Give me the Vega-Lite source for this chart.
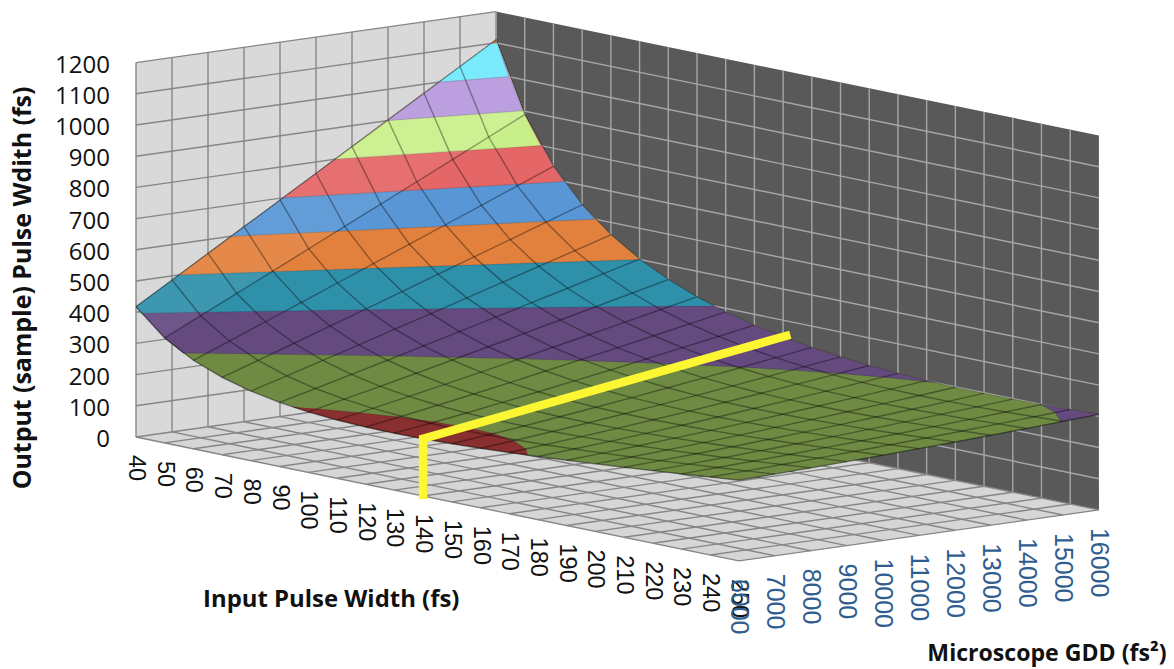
{
"$schema":"https://vega.github.io/schema/vega-lite/v6.json",
"width":1174,"height":669,"padding":0,"autosize":{"type":"fit","contains":"padding"},
"background":"white","view":{"stroke":null},
"resolve":{"scale":{"fill":"independent","stroke":"independent"}},
"datasets":{
"walls":[
{"s":"L","p":40,"g":6000,"z":0},{"s":"L","p":40,"g":6000,"z":1200},{"s":"L","p":40,"g":16000,"z":1200},{"s":"L","p":40,"g":16000,"z":0},
{"s":"R","p":40,"g":16000,"z":0},{"s":"R","p":40,"g":16000,"z":1200},{"s":"R","p":250,"g":16000,"z":1200},{"s":"R","p":250,"g":16000,"z":0},
{"s":"F","p":40,"g":6000,"z":0},{"s":"F","p":40,"g":16000,"z":0},{"s":"F","p":250,"g":16000,"z":0},{"s":"F","p":250,"g":6000,"z":0}],
"grid":[
{"w":"L","p":40,"g":6000,"z":0,"p2":40,"g2":6000,"z2":1200},{"w":"L","p":40,"g":7000,"z":0,"p2":40,"g2":7000,"z2":1200},{"w":"L","p":40,"g":8000,"z":0,"p2":40,"g2":8000,"z2":1200},{"w":"L","p":40,"g":9000,"z":0,"p2":40,"g2":9000,"z2":1200},{"w":"L","p":40,"g":10000,"z":0,"p2":40,"g2":10000,"z2":1200},{"w":"L","p":40,"g":11000,"z":0,"p2":40,"g2":11000,"z2":1200},{"w":"L","p":40,"g":12000,"z":0,"p2":40,"g2":12000,"z2":1200},{"w":"L","p":40,"g":13000,"z":0,"p2":40,"g2":13000,"z2":1200},{"w":"L","p":40,"g":14000,"z":0,"p2":40,"g2":14000,"z2":1200},{"w":"L","p":40,"g":15000,"z":0,"p2":40,"g2":15000,"z2":1200},{"w":"L","p":40,"g":16000,"z":0,"p2":40,"g2":16000,"z2":1200},
{"w":"L","p":40,"g":6000,"z":100,"p2":40,"g2":16000,"z2":100},{"w":"L","p":40,"g":6000,"z":200,"p2":40,"g2":16000,"z2":200},{"w":"L","p":40,"g":6000,"z":300,"p2":40,"g2":16000,"z2":300},{"w":"L","p":40,"g":6000,"z":400,"p2":40,"g2":16000,"z2":400},{"w":"L","p":40,"g":6000,"z":500,"p2":40,"g2":16000,"z2":500},{"w":"L","p":40,"g":6000,"z":600,"p2":40,"g2":16000,"z2":600},{"w":"L","p":40,"g":6000,"z":700,"p2":40,"g2":16000,"z2":700},{"w":"L","p":40,"g":6000,"z":800,"p2":40,"g2":16000,"z2":800},{"w":"L","p":40,"g":6000,"z":900,"p2":40,"g2":16000,"z2":900},{"w":"L","p":40,"g":6000,"z":1000,"p2":40,"g2":16000,"z2":1000},{"w":"L","p":40,"g":6000,"z":1100,"p2":40,"g2":16000,"z2":1100},{"w":"L","p":40,"g":6000,"z":1200,"p2":40,"g2":16000,"z2":1200},
{"w":"R","p":40,"g":16000,"z":0,"p2":40,"g2":16000,"z2":1200},{"w":"R","p":50,"g":16000,"z":0,"p2":50,"g2":16000,"z2":1200},{"w":"R","p":60,"g":16000,"z":0,"p2":60,"g2":16000,"z2":1200},{"w":"R","p":70,"g":16000,"z":0,"p2":70,"g2":16000,"z2":1200},{"w":"R","p":80,"g":16000,"z":0,"p2":80,"g2":16000,"z2":1200},{"w":"R","p":90,"g":16000,"z":0,"p2":90,"g2":16000,"z2":1200},{"w":"R","p":100,"g":16000,"z":0,"p2":100,"g2":16000,"z2":1200},{"w":"R","p":110,"g":16000,"z":0,"p2":110,"g2":16000,"z2":1200},{"w":"R","p":120,"g":16000,"z":0,"p2":120,"g2":16000,"z2":1200},{"w":"R","p":130,"g":16000,"z":0,"p2":130,"g2":16000,"z2":1200},{"w":"R","p":140,"g":16000,"z":0,"p2":140,"g2":16000,"z2":1200},{"w":"R","p":150,"g":16000,"z":0,"p2":150,"g2":16000,"z2":1200},{"w":"R","p":160,"g":16000,"z":0,"p2":160,"g2":16000,"z2":1200},{"w":"R","p":170,"g":16000,"z":0,"p2":170,"g2":16000,"z2":1200},{"w":"R","p":180,"g":16000,"z":0,"p2":180,"g2":16000,"z2":1200},{"w":"R","p":190,"g":16000,"z":0,"p2":190,"g2":16000,"z2":1200},{"w":"R","p":200,"g":16000,"z":0,"p2":200,"g2":16000,"z2":1200},{"w":"R","p":210,"g":16000,"z":0,"p2":210,"g2":16000,"z2":1200},{"w":"R","p":220,"g":16000,"z":0,"p2":220,"g2":16000,"z2":1200},{"w":"R","p":230,"g":16000,"z":0,"p2":230,"g2":16000,"z2":1200},{"w":"R","p":240,"g":16000,"z":0,"p2":240,"g2":16000,"z2":1200},
{"w":"R","p":40,"g":16000,"z":100,"p2":250,"g2":16000,"z2":100},{"w":"R","p":40,"g":16000,"z":200,"p2":250,"g2":16000,"z2":200},{"w":"R","p":40,"g":16000,"z":300,"p2":250,"g2":16000,"z2":300},{"w":"R","p":40,"g":16000,"z":400,"p2":250,"g2":16000,"z2":400},{"w":"R","p":40,"g":16000,"z":500,"p2":250,"g2":16000,"z2":500},{"w":"R","p":40,"g":16000,"z":600,"p2":250,"g2":16000,"z2":600},{"w":"R","p":40,"g":16000,"z":700,"p2":250,"g2":16000,"z2":700},{"w":"R","p":40,"g":16000,"z":800,"p2":250,"g2":16000,"z2":800},{"w":"R","p":40,"g":16000,"z":900,"p2":250,"g2":16000,"z2":900},{"w":"R","p":40,"g":16000,"z":1000,"p2":250,"g2":16000,"z2":1000},{"w":"R","p":40,"g":16000,"z":1100,"p2":250,"g2":16000,"z2":1100},
{"w":"F","p":40,"g":6000,"z":0,"p2":40,"g2":16000,"z2":0},{"w":"F","p":50,"g":6000,"z":0,"p2":50,"g2":16000,"z2":0},{"w":"F","p":60,"g":6000,"z":0,"p2":60,"g2":16000,"z2":0},{"w":"F","p":70,"g":6000,"z":0,"p2":70,"g2":16000,"z2":0},{"w":"F","p":80,"g":6000,"z":0,"p2":80,"g2":16000,"z2":0},{"w":"F","p":90,"g":6000,"z":0,"p2":90,"g2":16000,"z2":0},{"w":"F","p":100,"g":6000,"z":0,"p2":100,"g2":16000,"z2":0},{"w":"F","p":110,"g":6000,"z":0,"p2":110,"g2":16000,"z2":0},{"w":"F","p":120,"g":6000,"z":0,"p2":120,"g2":16000,"z2":0},{"w":"F","p":130,"g":6000,"z":0,"p2":130,"g2":16000,"z2":0},{"w":"F","p":140,"g":6000,"z":0,"p2":140,"g2":16000,"z2":0},{"w":"F","p":150,"g":6000,"z":0,"p2":150,"g2":16000,"z2":0},{"w":"F","p":160,"g":6000,"z":0,"p2":160,"g2":16000,"z2":0},{"w":"F","p":170,"g":6000,"z":0,"p2":170,"g2":16000,"z2":0},{"w":"F","p":180,"g":6000,"z":0,"p2":180,"g2":16000,"z2":0},{"w":"F","p":190,"g":6000,"z":0,"p2":190,"g2":16000,"z2":0},{"w":"F","p":200,"g":6000,"z":0,"p2":200,"g2":16000,"z2":0},{"w":"F","p":210,"g":6000,"z":0,"p2":210,"g2":16000,"z2":0},{"w":"F","p":220,"g":6000,"z":0,"p2":220,"g2":16000,"z2":0},{"w":"F","p":230,"g":6000,"z":0,"p2":230,"g2":16000,"z2":0},{"w":"F","p":240,"g":6000,"z":0,"p2":240,"g2":16000,"z2":0},{"w":"F","p":250,"g":6000,"z":0,"p2":250,"g2":16000,"z2":0},
{"w":"F","p":40,"g":6000,"z":0,"p2":250,"g2":6000,"z2":0},{"w":"F","p":40,"g":7000,"z":0,"p2":250,"g2":7000,"z2":0},{"w":"F","p":40,"g":8000,"z":0,"p2":250,"g2":8000,"z2":0},{"w":"F","p":40,"g":9000,"z":0,"p2":250,"g2":9000,"z2":0},{"w":"F","p":40,"g":10000,"z":0,"p2":250,"g2":10000,"z2":0},{"w":"F","p":40,"g":11000,"z":0,"p2":250,"g2":11000,"z2":0},{"w":"F","p":40,"g":12000,"z":0,"p2":250,"g2":12000,"z2":0},{"w":"F","p":40,"g":13000,"z":0,"p2":250,"g2":13000,"z2":0},{"w":"F","p":40,"g":14000,"z":0,"p2":250,"g2":14000,"z2":0},{"w":"F","p":40,"g":15000,"z":0,"p2":250,"g2":15000,"z2":0},{"w":"F","p":40,"g":16000,"z":0,"p2":250,"g2":16000,"z2":0}],
"polys":[
{"s":"A","b":"200","p":40,"g":6000,"z":417.8},{"s":"A","b":"200","p":50,"g":6000,"z":336.4},{"s":"A","b":"200","p":60,"g":6000,"z":283.7},{"s":"A","b":"200","p":70,"g":6000,"z":247.8},{"s":"A","b":"200","p":80,"g":6000,"z":222.9},{"s":"A","b":"200","p":90,"g":6000,"z":205.6},{"s":"A","b":"200","p":100,"g":6000,"z":194.1},{"s":"A","b":"200","p":110,"g":6000,"z":187},{"s":"A","b":"200","p":120,"g":6000,"z":183.3},{"s":"A","b":"200","p":130,"g":6000,"z":182.4},{"s":"A","b":"200","p":140,"g":6000,"z":183.6},{"s":"A","b":"200","p":150,"g":6000,"z":186.5},{"s":"A","b":"200","p":160,"g":6000,"z":190.8},{"s":"A","b":"200","p":170,"g":6000,"z":196.2},{"s":"A","b":"200","p":180,"g":6000,"z":202.3},{"s":"A","b":"200","p":190,"g":6000,"z":209.2},{"s":"A","b":"200","p":200,"g":6000,"z":216.6},{"s":"A","b":"200","p":210,"g":6000,"z":224.4},{"s":"A","b":"200","p":220,"g":6000,"z":232.6},{"s":"A","b":"200","p":230,"g":6000,"z":241.1},{"s":"A","b":"200","p":240,"g":6000,"z":249.8},{"s":"A","b":"200","p":250,"g":6000,"z":258.7},
{"s":"A","b":"200","p":250,"g":7000,"z":261.8},{"s":"A","b":"200","p":250,"g":8000,"z":265.3},{"s":"A","b":"200","p":250,"g":9000,"z":269.2},{"s":"A","b":"200","p":250,"g":10000,"z":273.4},{"s":"A","b":"200","p":250,"g":11000,"z":278.1},{"s":"A","b":"200","p":250,"g":12000,"z":283},{"s":"A","b":"200","p":250,"g":13000,"z":288.3},{"s":"A","b":"200","p":250,"g":14000,"z":294},{"s":"A","b":"200","p":250,"g":15000,"z":299.9},{"s":"A","b":"200","p":250,"g":16000,"z":306.1},
{"s":"A","b":"200","p":240,"g":16000,"z":302.9},{"s":"A","b":"200","p":230,"g":16000,"z":300.1},{"s":"A","b":"200","p":220,"g":16000,"z":298.4},{"s":"A","b":"200","p":210,"g":16000,"z":297.9},{"s":"A","b":"200","p":200,"g":16000,"z":298.7},{"s":"A","b":"200","p":190,"g":16000,"z":301},{"s":"A","b":"200","p":180,"g":16000,"z":305.2},{"s":"A","b":"200","p":170,"g":16000,"z":311.4},{"s":"A","b":"200","p":160,"g":16000,"z":320.1},{"s":"A","b":"200","p":150,"g":16000,"z":331.6},{"s":"A","b":"200","p":140,"g":16000,"z":346.4},{"s":"A","b":"200","p":130,"g":16000,"z":365.1},{"s":"A","b":"200","p":120,"g":16000,"z":388.7},{"s":"A","b":"200","p":110,"g":16000,"z":418},{"s":"A","b":"200","p":100,"g":16000,"z":454.7},{"s":"A","b":"200","p":90,"g":16000,"z":501.1},{"s":"A","b":"200","p":80,"g":16000,"z":560.2},{"s":"A","b":"200","p":70,"g":16000,"z":637.6},{"s":"A","b":"200","p":60,"g":16000,"z":741.8},{"s":"A","b":"200","p":50,"g":16000,"z":888.6},{"s":"A","b":"200","p":40,"g":16000,"z":1109.8},
{"s":"B","b":"100","p":94.3,"g":6000,"z":200},{"s":"B","b":"100","p":100,"g":6000,"z":194.1},{"s":"B","b":"100","p":110,"g":6000,"z":187},{"s":"B","b":"100","p":120,"g":6000,"z":183.3},{"s":"B","b":"100","p":130,"g":6000,"z":182.4},{"s":"B","b":"100","p":140,"g":6000,"z":183.6},{"s":"B","b":"100","p":150,"g":6000,"z":186.5},{"s":"B","b":"100","p":160,"g":6000,"z":190.8},{"s":"B","b":"100","p":170,"g":6000,"z":196.2},{"s":"B","b":"100","p":176.4,"g":6000,"z":200},{"s":"B","b":"100","p":170,"g":6460,"z":200},{"s":"B","b":"100","p":160,"g":6925,"z":200},{"s":"B","b":"100","p":150,"g":7157,"z":200},{"s":"B","b":"100","p":140,"g":7212,"z":200},{"s":"B","b":"100","p":130,"g":7127,"z":200},{"s":"B","b":"100","p":120,"g":6925,"z":200},{"s":"B","b":"100","p":110,"g":6626,"z":200},{"s":"B","b":"100","p":100,"g":6247,"z":200},
{"s":"C","b":"300","p":40,"g":6000,"z":417.8},{"s":"C","b":"300","p":50,"g":6000,"z":336.4},{"s":"C","b":"300","p":56.5,"g":6000,"z":300},{"s":"C","b":"300","p":60,"g":6361,"z":300},{"s":"C","b":"300","p":70,"g":7366,"z":300},{"s":"C","b":"300","p":80,"g":8343,"z":300},{"s":"C","b":"300","p":90,"g":9290,"z":300},{"s":"C","b":"300","p":100,"g":10201,"z":300},{"s":"C","b":"300","p":110,"g":11072,"z":300},{"s":"C","b":"300","p":120,"g":11900,"z":300},{"s":"C","b":"300","p":130,"g":12678,"z":300},{"s":"C","b":"300","p":140,"g":13397,"z":300},{"s":"C","b":"300","p":150,"g":14056,"z":300},{"s":"C","b":"300","p":160,"g":14645,"z":300},{"s":"C","b":"300","p":170,"g":15155,"z":300},{"s":"C","b":"300","p":180,"g":15580,"z":300},{"s":"C","b":"300","p":190,"g":15911,"z":300},{"s":"C","b":"300","p":193.5,"g":16000,"z":300},{"s":"C","b":"300","p":190,"g":16000,"z":301},{"s":"C","b":"300","p":180,"g":16000,"z":305.2},{"s":"C","b":"300","p":170,"g":16000,"z":311.4},{"s":"C","b":"300","p":160,"g":16000,"z":320.1},{"s":"C","b":"300","p":150,"g":16000,"z":331.6},{"s":"C","b":"300","p":140,"g":16000,"z":346.4},{"s":"C","b":"300","p":130,"g":16000,"z":365.1},{"s":"C","b":"300","p":120,"g":16000,"z":388.7},{"s":"C","b":"300","p":110,"g":16000,"z":418},{"s":"C","b":"300","p":100,"g":16000,"z":454.7},{"s":"C","b":"300","p":90,"g":16000,"z":501.1},{"s":"C","b":"300","p":80,"g":16000,"z":560.2},{"s":"C","b":"300","p":70,"g":16000,"z":637.6},{"s":"C","b":"300","p":60,"g":16000,"z":741.8},{"s":"C","b":"300","p":50,"g":16000,"z":888.6},{"s":"C","b":"300","p":40,"g":16000,"z":1109.8},
{"s":"C2","b":"300","p":229.3,"g":16000,"z":300},{"s":"C2","b":"300","p":240,"g":16000,"z":302.9},{"s":"C2","b":"300","p":250,"g":16000,"z":306.1},{"s":"C2","b":"300","p":250,"g":14951,"z":300},{"s":"C2","b":"300","p":240,"g":15581,"z":300},{"s":"C2","b":"300","p":230,"g":15977,"z":300},
{"s":"D","b":"400","p":40,"g":6000,"z":417.8},{"s":"D","b":"400","p":41.8,"g":6000,"z":400},{"s":"D","b":"400","p":50,"g":7157,"z":400},{"s":"D","b":"400","p":60,"g":8558,"z":400},{"s":"D","b":"400","p":70,"g":9943,"z":400},{"s":"D","b":"400","p":80,"g":11308,"z":400},{"s":"D","b":"400","p":90,"g":12651,"z":400},{"s":"D","b":"400","p":100,"g":13970,"z":400},{"s":"D","b":"400","p":110,"g":15257,"z":400},{"s":"D","b":"400","p":115.9,"g":16000,"z":400},{"s":"D","b":"400","p":110,"g":16000,"z":418},{"s":"D","b":"400","p":100,"g":16000,"z":454.7},{"s":"D","b":"400","p":90,"g":16000,"z":501.1},{"s":"D","b":"400","p":80,"g":16000,"z":560.2},{"s":"D","b":"400","p":70,"g":16000,"z":637.6},{"s":"D","b":"400","p":60,"g":16000,"z":741.8},{"s":"D","b":"400","p":50,"g":16000,"z":888.6},{"s":"D","b":"400","p":40,"g":16000,"z":1109.8},
{"s":"E","b":"500","p":40,"g":7190,"z":500},{"s":"E","b":"500","p":50,"g":8972,"z":500},{"s":"E","b":"500","p":60,"g":10742,"z":500},{"s":"E","b":"500","p":70,"g":12500,"z":500},{"s":"E","b":"500","p":80,"g":14242,"z":500},{"s":"E","b":"500","p":90.2,"g":16000,"z":500},{"s":"E","b":"500","p":80,"g":16000,"z":560.2},{"s":"E","b":"500","p":70,"g":16000,"z":637.6},{"s":"E","b":"500","p":60,"g":16000,"z":741.8},{"s":"E","b":"500","p":50,"g":16000,"z":888.6},{"s":"E","b":"500","p":40,"g":16000,"z":1109.8},
{"s":"F","b":"600","p":40,"g":8637,"z":600},{"s":"F","b":"600","p":50,"g":10783,"z":600},{"s":"F","b":"600","p":60,"g":12919,"z":600},{"s":"F","b":"600","p":70,"g":15045,"z":600},{"s":"F","b":"600","p":74.5,"g":16000,"z":600},{"s":"F","b":"600","p":70,"g":16000,"z":637.6},{"s":"F","b":"600","p":60,"g":16000,"z":741.8},{"s":"F","b":"600","p":50,"g":16000,"z":888.6},{"s":"F","b":"600","p":40,"g":16000,"z":1109.8},
{"s":"G","b":"700","p":40,"g":10083,"z":700},{"s":"G","b":"700","p":50,"g":12591,"z":700},{"s":"G","b":"700","p":60,"g":15092,"z":700},{"s":"G","b":"700","p":63.65,"g":16000,"z":700},{"s":"G","b":"700","p":60,"g":16000,"z":741.8},{"s":"G","b":"700","p":50,"g":16000,"z":888.6},{"s":"G","b":"700","p":40,"g":16000,"z":1109.8},
{"s":"H","b":"800","p":40,"g":11527,"z":800},{"s":"H","b":"800","p":50,"g":14399,"z":800},{"s":"H","b":"800","p":55.6,"g":16000,"z":800},{"s":"H","b":"800","p":50,"g":16000,"z":888.6},{"s":"H","b":"800","p":40,"g":16000,"z":1109.8},
{"s":"I","b":"900","p":40,"g":12972,"z":900},{"s":"I","b":"900","p":49.35,"g":16000,"z":900},{"s":"I","b":"900","p":40,"g":16000,"z":1109.8},
{"s":"J","b":"1000","p":40,"g":14416,"z":1000},{"s":"J","b":"1000","p":44.4,"g":16000,"z":1000},{"s":"J","b":"1000","p":40,"g":16000,"z":1109.8},
{"s":"K","b":"1100","p":40,"g":15860,"z":1100},{"s":"K","b":"1100","p":40.35,"g":16000,"z":1100},{"s":"K","b":"1100","p":40,"g":16000,"z":1109.8}],
"lit":[
{"p":40,"g":6000,"z":417.8},{"p":40,"g":16000,"z":1109.8},{"p":50,"g":16000,"z":888.6},{"p":50,"g":15000,"z":833.3},{"p":50,"g":14000,"z":777.9},{"p":50,"g":13000,"z":722.6},{"p":50,"g":12000,"z":667.3},{"p":50,"g":11000,"z":612},{"p":50,"g":10000,"z":556.8},{"p":50,"g":9000,"z":501.6},{"p":50,"g":8000,"z":446.4},{"p":50,"g":7000,"z":391.4},{"p":50,"g":6000,"z":336.4}],
"mesh":[
{"p":40,"g":6000,"z":417.8},{"p":40,"g":7000,"z":486.9},{"p":40,"g":8000,"z":555.9},{"p":40,"g":9000,"z":625.1},{"p":40,"g":10000,"z":694.3},{"p":40,"g":11000,"z":763.5},{"p":40,"g":12000,"z":832.7},{"p":40,"g":13000,"z":902},{"p":40,"g":14000,"z":971.2},{"p":40,"g":15000,"z":1040.5},{"p":40,"g":16000,"z":1109.8},
{"p":50,"g":6000,"z":336.4},{"p":50,"g":7000,"z":391.4},{"p":50,"g":8000,"z":446.4},{"p":50,"g":9000,"z":501.6},{"p":50,"g":10000,"z":556.8},{"p":50,"g":11000,"z":612},{"p":50,"g":12000,"z":667.3},{"p":50,"g":13000,"z":722.6},{"p":50,"g":14000,"z":777.9},{"p":50,"g":15000,"z":833.3},{"p":50,"g":16000,"z":888.6},
{"p":60,"g":6000,"z":283.7},{"p":60,"g":7000,"z":329},{"p":60,"g":8000,"z":374.5},{"p":60,"g":9000,"z":420.2},{"p":60,"g":10000,"z":466},{"p":60,"g":11000,"z":511.8},{"p":60,"g":12000,"z":557.7},{"p":60,"g":13000,"z":603.7},{"p":60,"g":14000,"z":649.7},{"p":60,"g":15000,"z":695.8},{"p":60,"g":16000,"z":741.8},
{"p":70,"g":6000,"z":247.8},{"p":70,"g":7000,"z":286},{"p":70,"g":8000,"z":324.5},{"p":70,"g":9000,"z":363.3},{"p":70,"g":10000,"z":402.2},{"p":70,"g":11000,"z":441.3},{"p":70,"g":12000,"z":480.4},{"p":70,"g":13000,"z":519.6},{"p":70,"g":14000,"z":558.9},{"p":70,"g":15000,"z":598.2},{"p":70,"g":16000,"z":637.6},
{"p":80,"g":6000,"z":222.9},{"p":80,"g":7000,"z":255.5},{"p":80,"g":8000,"z":288.6},{"p":80,"g":9000,"z":322},{"p":80,"g":10000,"z":355.7},{"p":80,"g":11000,"z":389.5},{"p":80,"g":12000,"z":423.5},{"p":80,"g":13000,"z":457.6},{"p":80,"g":14000,"z":491.8},{"p":80,"g":15000,"z":526},{"p":80,"g":16000,"z":560.2},
{"p":90,"g":6000,"z":205.6},{"p":90,"g":7000,"z":233.6},{"p":90,"g":8000,"z":262.4},{"p":90,"g":9000,"z":291.5},{"p":90,"g":10000,"z":321},{"p":90,"g":11000,"z":350.6},{"p":90,"g":12000,"z":380.5},{"p":90,"g":13000,"z":410.5},{"p":90,"g":14000,"z":440.6},{"p":90,"g":15000,"z":470.8},{"p":90,"g":16000,"z":501.1},
{"p":100,"g":6000,"z":194.1},{"p":100,"g":7000,"z":218.3},{"p":100,"g":8000,"z":243.3},{"p":100,"g":9000,"z":268.8},{"p":100,"g":10000,"z":294.8},{"p":100,"g":11000,"z":321},{"p":100,"g":12000,"z":347.4},{"p":100,"g":13000,"z":374},{"p":100,"g":14000,"z":400.9},{"p":100,"g":15000,"z":427.8},{"p":100,"g":16000,"z":454.7},
{"p":110,"g":6000,"z":187},{"p":110,"g":7000,"z":207.9},{"p":110,"g":8000,"z":229.7},{"p":110,"g":9000,"z":252.1},{"p":110,"g":10000,"z":275},{"p":110,"g":11000,"z":298.3},{"p":110,"g":12000,"z":321.9},{"p":110,"g":13000,"z":345.7},{"p":110,"g":14000,"z":369.6},{"p":110,"g":15000,"z":393.8},{"p":110,"g":16000,"z":418},
{"p":120,"g":6000,"z":183.3},{"p":120,"g":7000,"z":201.4},{"p":120,"g":8000,"z":220.4},{"p":120,"g":9000,"z":240},{"p":120,"g":10000,"z":260.4},{"p":120,"g":11000,"z":281.1},{"p":120,"g":12000,"z":302.2},{"p":120,"g":13000,"z":323.5},{"p":120,"g":14000,"z":345},{"p":120,"g":15000,"z":366.8},{"p":120,"g":16000,"z":388.7},
{"p":130,"g":6000,"z":182.4},{"p":130,"g":7000,"z":198},{"p":130,"g":8000,"z":214.5},{"p":130,"g":9000,"z":231.9},{"p":130,"g":10000,"z":249.8},{"p":130,"g":11000,"z":268.2},{"p":130,"g":12000,"z":287},{"p":130,"g":13000,"z":306.3},{"p":130,"g":14000,"z":325.7},{"p":130,"g":15000,"z":345.3},{"p":130,"g":16000,"z":365.1},
{"p":140,"g":6000,"z":183.6},{"p":140,"g":7000,"z":197},{"p":140,"g":8000,"z":211.4},{"p":140,"g":9000,"z":226.6},{"p":140,"g":10000,"z":242.5},{"p":140,"g":11000,"z":258.9},{"p":140,"g":12000,"z":275.8},{"p":140,"g":13000,"z":293.1},{"p":140,"g":14000,"z":310.6},{"p":140,"g":15000,"z":328.4},{"p":140,"g":16000,"z":346.4},
{"p":150,"g":6000,"z":186.5},{"p":150,"g":7000,"z":198.1},{"p":150,"g":8000,"z":210.6},{"p":150,"g":9000,"z":224},{"p":150,"g":10000,"z":238},{"p":150,"g":11000,"z":252.7},{"p":150,"g":12000,"z":267.8},{"p":150,"g":13000,"z":283.3},{"p":150,"g":14000,"z":299.1},{"p":150,"g":15000,"z":315.3},{"p":150,"g":16000,"z":331.6},
{"p":160,"g":6000,"z":190.8},{"p":160,"g":7000,"z":200.8},{"p":160,"g":8000,"z":211.7},{"p":160,"g":9000,"z":223.4},{"p":160,"g":10000,"z":235.9},{"p":160,"g":11000,"z":248.8},{"p":160,"g":12000,"z":262.4},{"p":160,"g":13000,"z":276.3},{"p":160,"g":14000,"z":290.6},{"p":160,"g":15000,"z":305.2},{"p":160,"g":16000,"z":320.1},
{"p":170,"g":6000,"z":196.2},{"p":170,"g":7000,"z":204.8},{"p":170,"g":8000,"z":214.3},{"p":170,"g":9000,"z":224.6},{"p":170,"g":10000,"z":235.6},{"p":170,"g":11000,"z":247.2},{"p":170,"g":12000,"z":259.2},{"p":170,"g":13000,"z":271.8},{"p":170,"g":14000,"z":284.7},{"p":170,"g":15000,"z":297.9},{"p":170,"g":16000,"z":311.4},
{"p":180,"g":6000,"z":202.3},{"p":180,"g":7000,"z":209.8},{"p":180,"g":8000,"z":218.1},{"p":180,"g":9000,"z":227.2},{"p":180,"g":10000,"z":236.9},{"p":180,"g":11000,"z":247.2},{"p":180,"g":12000,"z":258},{"p":180,"g":13000,"z":269.2},{"p":180,"g":14000,"z":280.9},{"p":180,"g":15000,"z":292.9},{"p":180,"g":16000,"z":305.2},
{"p":190,"g":6000,"z":209.2},{"p":190,"g":7000,"z":215.7},{"p":190,"g":8000,"z":223},{"p":190,"g":9000,"z":231},{"p":190,"g":10000,"z":239.6},{"p":190,"g":11000,"z":248.7},{"p":190,"g":12000,"z":258.4},{"p":190,"g":13000,"z":268.5},{"p":190,"g":14000,"z":279},{"p":190,"g":15000,"z":289.9},{"p":190,"g":16000,"z":301},
{"p":200,"g":6000,"z":216.6},{"p":200,"g":7000,"z":222.3},{"p":200,"g":8000,"z":228.7},{"p":200,"g":9000,"z":235.7},{"p":200,"g":10000,"z":243.3},{"p":200,"g":11000,"z":251.5},{"p":200,"g":12000,"z":260.2},{"p":200,"g":13000,"z":269.2},{"p":200,"g":14000,"z":278.7},{"p":200,"g":15000,"z":288.5},{"p":200,"g":16000,"z":298.7},
{"p":210,"g":6000,"z":224.4},{"p":210,"g":7000,"z":229.4},{"p":210,"g":8000,"z":235.1},{"p":210,"g":9000,"z":241.3},{"p":210,"g":10000,"z":248.1},{"p":210,"g":11000,"z":255.3},{"p":210,"g":12000,"z":263},{"p":210,"g":13000,"z":271.2},{"p":210,"g":14000,"z":279.7},{"p":210,"g":15000,"z":288.6},{"p":210,"g":16000,"z":297.9},
{"p":220,"g":6000,"z":232.6},{"p":220,"g":7000,"z":237},{"p":220,"g":8000,"z":242},{"p":220,"g":9000,"z":247.5},{"p":220,"g":10000,"z":253.5},{"p":220,"g":11000,"z":260},{"p":220,"g":12000,"z":266.9},{"p":220,"g":13000,"z":274.3},{"p":220,"g":14000,"z":282},{"p":220,"g":15000,"z":290},{"p":220,"g":16000,"z":298.4},
{"p":230,"g":6000,"z":241.1},{"p":230,"g":7000,"z":245},{"p":230,"g":8000,"z":249.5},{"p":230,"g":9000,"z":254.3},{"p":230,"g":10000,"z":259.7},{"p":230,"g":11000,"z":265.5},{"p":230,"g":12000,"z":271.7},{"p":230,"g":13000,"z":278.3},{"p":230,"g":14000,"z":285.2},{"p":230,"g":15000,"z":292.5},{"p":230,"g":16000,"z":300.1},
{"p":240,"g":6000,"z":249.8},{"p":240,"g":7000,"z":253.3},{"p":240,"g":8000,"z":257.2},{"p":240,"g":9000,"z":261.6},{"p":240,"g":10000,"z":266.4},{"p":240,"g":11000,"z":271.6},{"p":240,"g":12000,"z":277.1},{"p":240,"g":13000,"z":283.1},{"p":240,"g":14000,"z":289.4},{"p":240,"g":15000,"z":296},{"p":240,"g":16000,"z":302.9},
{"p":250,"g":6000,"z":258.7},{"p":250,"g":7000,"z":261.8},{"p":250,"g":8000,"z":265.3},{"p":250,"g":9000,"z":269.2},{"p":250,"g":10000,"z":273.4},{"p":250,"g":11000,"z":278.1},{"p":250,"g":12000,"z":283},{"p":250,"g":13000,"z":288.3},{"p":250,"g":14000,"z":294},{"p":250,"g":15000,"z":299.9},{"p":250,"g":16000,"z":306.1}],
"marker":[{"p":140,"g":6000,"z":-10,"i":1},{"p":140,"g":6000,"z":183.6,"i":2},{"p":140,"g":16200,"z":350,"i":3}],
"zticks":[{"p":40,"g":6000,"z":0,"t":"0"},{"p":40,"g":6000,"z":100,"t":"100"},{"p":40,"g":6000,"z":200,"t":"200"},{"p":40,"g":6000,"z":300,"t":"300"},{"p":40,"g":6000,"z":400,"t":"400"},{"p":40,"g":6000,"z":500,"t":"500"},{"p":40,"g":6000,"z":600,"t":"600"},{"p":40,"g":6000,"z":700,"t":"700"},{"p":40,"g":6000,"z":800,"t":"800"},{"p":40,"g":6000,"z":900,"t":"900"},{"p":40,"g":6000,"z":1000,"t":"1000"},{"p":40,"g":6000,"z":1100,"t":"1100"},{"p":40,"g":6000,"z":1200,"t":"1200"}],
"pticks":[{"p":40,"g":6000,"z":0,"t":"40"},{"p":50,"g":6000,"z":0,"t":"50"},{"p":60,"g":6000,"z":0,"t":"60"},{"p":70,"g":6000,"z":0,"t":"70"},{"p":80,"g":6000,"z":0,"t":"80"},{"p":90,"g":6000,"z":0,"t":"90"},{"p":100,"g":6000,"z":0,"t":"100"},{"p":110,"g":6000,"z":0,"t":"110"},{"p":120,"g":6000,"z":0,"t":"120"},{"p":130,"g":6000,"z":0,"t":"130"},{"p":140,"g":6000,"z":0,"t":"140"},{"p":150,"g":6000,"z":0,"t":"150"},{"p":160,"g":6000,"z":0,"t":"160"},{"p":170,"g":6000,"z":0,"t":"170"},{"p":180,"g":6000,"z":0,"t":"180"},{"p":190,"g":6000,"z":0,"t":"190"},{"p":200,"g":6000,"z":0,"t":"200"},{"p":210,"g":6000,"z":0,"t":"210"},{"p":220,"g":6000,"z":0,"t":"220"},{"p":230,"g":6000,"z":0,"t":"230"},{"p":240,"g":6000,"z":0,"t":"240"},{"p":250,"g":6000,"z":0,"t":"250"}],
"gticks":[{"p":250,"g":6000,"z":0,"t":"6000"},{"p":250,"g":7000,"z":0,"t":"7000"},{"p":250,"g":8000,"z":0,"t":"8000"},{"p":250,"g":9000,"z":0,"t":"9000"},{"p":250,"g":10000,"z":0,"t":"10000"},{"p":250,"g":11000,"z":0,"t":"11000"},{"p":250,"g":12000,"z":0,"t":"12000"},{"p":250,"g":13000,"z":0,"t":"13000"},{"p":250,"g":14000,"z":0,"t":"14000"},{"p":250,"g":15000,"z":0,"t":"15000"},{"p":250,"g":16000,"z":0,"t":"16000"}]
},
"encoding":{
"x":{"field":"sx","type":"quantitative","scale":{"domain":[0,1174],"nice":false,"zero":false},"axis":null},
"y":{"field":"sy","type":"quantitative","scale":{"domain":[669,0],"nice":false,"zero":false},"axis":null}
},
"layer":[
{"data":{"name":"walls"},
"transform":[{"calculate":"136+(datum.p-40)*2.871+(datum.g-6000)*0.036","as":"sx"},{"calculate":"437+(datum.p-40)*0.59-(datum.g-6000)*0.0051-datum.z*0.312","as":"sy"},{"window":[{"op":"row_number","as":"i"}]}],
"mark":{"type":"line","strokeWidth":0},
"encoding":{"detail":{"field":"s"},"order":{"field":"i"},"fill":{"field":"s","type":"nominal","legend":null,"scale":{"domain":["L","R","F"],"range":["#d9d9d9","#595959","#d6d6d6"]}}}},
{"data":{"name":"grid"},
"transform":[{"calculate":"136+(datum.p-40)*2.871+(datum.g-6000)*0.036","as":"sx"},{"calculate":"437+(datum.p-40)*0.59-(datum.g-6000)*0.0051-datum.z*0.312","as":"sy"},{"calculate":"136+(datum.p2-40)*2.871+(datum.g2-6000)*0.036","as":"sx2"},{"calculate":"437+(datum.p2-40)*0.59-(datum.g2-6000)*0.0051-datum.z2*0.312","as":"sy2"}],
"mark":{"type":"rule","strokeWidth":1.4},
"encoding":{"x2":{"field":"sx2"},"y2":{"field":"sy2"},"stroke":{"field":"w","type":"nominal","legend":null,"scale":{"domain":["L","R","F"],"range":["#868686","#a6a6a6","#868686"]}}}},
{"data":{"name":"polys"},
"transform":[{"calculate":"136+(datum.p-40)*2.871+(datum.g-6000)*0.036","as":"sx"},{"calculate":"437+(datum.p-40)*0.59-(datum.g-6000)*0.0051-datum.z*0.312","as":"sy"},{"window":[{"op":"row_number","as":"i"}]}],
"mark":{"type":"line","stroke":"#000000","strokeOpacity":0.12,"strokeWidth":1.2},
"encoding":{"detail":{"field":"s"},"order":{"field":"i"},"fill":{"field":"b","type":"nominal","legend":null,"scale":{"domain":["100","200","300","400","500","600","700","800","900","1000","1100"],"range":["#8a2f30","#6f8b43","#654a80","#2f90aa","#e2813d","#5896d6","#e56666","#c9ef8a","#b698dc","#70eafc","#d9661f"]}}}},
{"data":{"name":"lit"},
"transform":[{"calculate":"136+(datum.p-40)*2.871+(datum.g-6000)*0.036","as":"sx"},{"calculate":"437+(datum.p-40)*0.59-(datum.g-6000)*0.0051-datum.z*0.312","as":"sy"},{"window":[{"op":"row_number","as":"i"}]}],
"mark":{"type":"line","fill":"#ffffff","fillOpacity":0.07,"strokeWidth":0},
"encoding":{"order":{"field":"i"}}},
{"data":{"name":"mesh"},
"transform":[{"calculate":"136+(datum.p-40)*2.871+(datum.g-6000)*0.036","as":"sx"},{"calculate":"437+(datum.p-40)*0.59-(datum.g-6000)*0.0051-datum.z*0.312","as":"sy"}],
"mark":{"type":"line","stroke":"#000000","strokeOpacity":0.36,"strokeWidth":1.4},
"encoding":{"detail":{"field":"p"},"order":{"field":"g"}}},
{"data":{"name":"mesh"},
"transform":[{"filter":"datum.g<16000"},{"calculate":"136+(datum.p-40)*2.871+(datum.g-6000)*0.036","as":"sx"},{"calculate":"437+(datum.p-40)*0.59-(datum.g-6000)*0.0051-datum.z*0.312","as":"sy"}],
"mark":{"type":"line","stroke":"#000000","strokeOpacity":0.36,"strokeWidth":1.4},
"encoding":{"detail":{"field":"g"},"order":{"field":"p"}}},
{"data":{"name":"marker"},
"transform":[{"calculate":"136+(datum.p-40)*2.871+(datum.g-6000)*0.036","as":"sx"},{"calculate":"437+(datum.p-40)*0.59-(datum.g-6000)*0.0051-datum.z*0.312","as":"sy"}],
"mark":{"type":"line","stroke":"#fdf733","strokeWidth":8.5,"strokeJoin":"miter","strokeCap":"butt"},
"encoding":{"order":{"field":"i"}}},
{"data":{"name":"zticks"},
"transform":[{"calculate":"136+(datum.p-40)*2.871+(datum.g-6000)*0.036","as":"sx"},{"calculate":"437+(datum.p-40)*0.59-(datum.g-6000)*0.0051-datum.z*0.312","as":"sy"}],
"mark":{"type":"text","font":"Open Sans","fontSize":24,"align":"right","baseline":"middle","dx":-26,"dy":3,"color":"#111111"},
"encoding":{"text":{"field":"t"}}},
{"data":{"name":"pticks"},
"transform":[{"calculate":"136+(datum.p-40)*2.871+(datum.g-6000)*0.036","as":"sx"},{"calculate":"437+(datum.p-40)*0.59-(datum.g-6000)*0.0051-datum.z*0.312","as":"sy"}],
"mark":{"type":"text","font":"Liberation Sans","fontSize":23.5,"align":"left","baseline":"middle","angle":90,"dx":18,"dy":0,"color":"#111111"},
"encoding":{"text":{"field":"t"}}},
{"data":{"name":"gticks"},
"transform":[{"calculate":"136+(datum.p-40)*2.871+(datum.g-6000)*0.036","as":"sx"},{"calculate":"437+(datum.p-40)*0.59-(datum.g-6000)*0.0051-datum.z*0.312","as":"sy"}],
"mark":{"type":"text","font":"Liberation Sans","fontSize":25,"align":"left","baseline":"middle","angle":90,"dx":18,"dy":0,"color":"#2f5d8f"},
"encoding":{"text":{"field":"t"}}},
{"data":{"values":[{"p":40,"g":6000,"z":477.6,"t":"Output (sample) Pulse Wdith (fs)"}]},
"transform":[{"calculate":"136+(datum.p-40)*2.871+(datum.g-6000)*0.036","as":"sx"},{"calculate":"437+(datum.p-40)*0.59-(datum.g-6000)*0.0051-datum.z*0.312","as":"sy"}],
"mark":{"type":"text","font":"Open Sans","fontWeight":"bold","fontSize":24.9,"align":"center","baseline":"middle","angle":270,"dy":-112,"color":"#111111"},
"encoding":{"text":{"field":"t"}}},
{"data":{"values":[{"p":108,"g":6000,"z":0,"t":"Input Pulse Width (fs)"}]},
"transform":[{"calculate":"136+(datum.p-40)*2.871+(datum.g-6000)*0.036","as":"sx"},{"calculate":"437+(datum.p-40)*0.59-(datum.g-6000)*0.0051-datum.z*0.312","as":"sy"}],
"mark":{"type":"text","font":"Open Sans","fontWeight":"bold","fontSize":23.9,"align":"center","baseline":"middle","dy":123,"color":"#111111"},
"encoding":{"text":{"field":"t"}}},
{"data":{"values":[{"p":250,"g":14556,"z":0,"t":"Microscope GDD (fs²)"}]},
"transform":[{"calculate":"136+(datum.p-40)*2.871+(datum.g-6000)*0.036","as":"sx"},{"calculate":"437+(datum.p-40)*0.59-(datum.g-6000)*0.0051-datum.z*0.312","as":"sy"}],
"mark":{"type":"text","font":"Open Sans","fontWeight":"bold","fontSize":23.1,"align":"center","baseline":"middle","dy":137,"color":"#111111"},
"encoding":{"text":{"field":"t"}}}
]
}
